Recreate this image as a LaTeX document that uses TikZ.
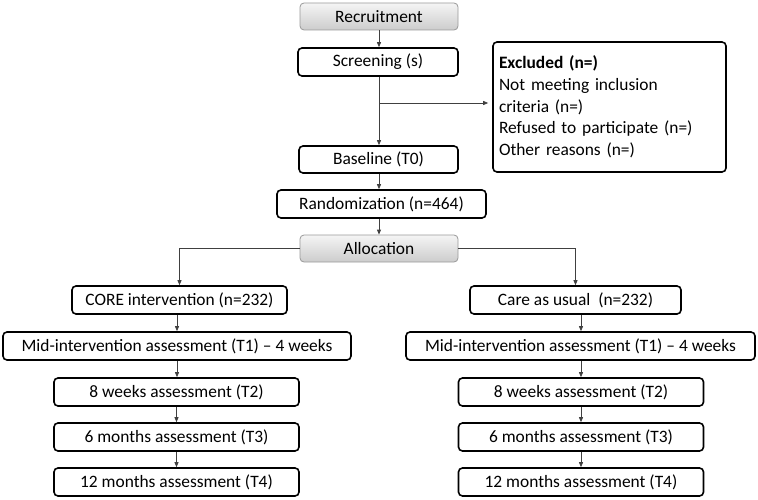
\documentclass[tikz,border=0pt]{standalone}
\usepackage{fontspec}
\setmainfont{Carlito}
\usetikzlibrary{arrows.meta}
\begin{document}
\begin{tikzpicture}[x=1pt,y=-1pt,
  box/.style={draw=black,line width=1.6pt,rounded corners=4pt,fill=white,inner sep=2pt,font=\fontsize{17.4}{20}\selectfont,minimum height=28pt},
  graybox/.style={draw=gray!80,line width=0.8pt,rounded corners=4pt,top color=gray!8,bottom color=gray!40,inner sep=2pt,font=\fontsize{17.4}{20}\selectfont,minimum height=27pt},
  conn/.style={draw=black!75,line width=0.8pt},
  arr/.style={conn,-{Triangle[length=5pt,width=4pt]}}]
\useasboundingbox (0,0) rectangle (758,500);
\node[graybox,minimum width=158pt] (rec) at (379,16.5) {Recruitment};
\node[box,minimum width=160pt] (scr) at (378,62) {Screening (s)};
\node[box,minimum width=233pt,minimum height=130pt,text width=221pt,align=left,inner sep=6pt,font=\fontsize{17.4}{21.7}\selectfont] (exc) at (609.5,107) {\textbf{Excluded (n=)}\\Not meeting inclusion\\criteria (n=)\\Refused to participate (n=)\\Other reasons (n=)};
\node[box,minimum width=159pt,minimum height=27pt] (base) at (378.5,159.5) {Baseline (T0)};
\node[box,minimum width=209pt] (rand) at (381.5,204) {Randomization (n=464)};
\node[graybox,minimum width=158pt] (alloc) at (379,248.5) {Allocation};
\node[box,minimum width=215pt] (core) at (179.5,300) {CORE intervention (n=232)};
\node[box,minimum width=211pt] (care) at (575.5,300) {Care as usual\ \ (n=232)};
\node[box,minimum width=348pt] (midL) at (177,346) {Mid-intervention assessment (T1) – 4 weeks};
\node[box,minimum width=245pt] (w8L) at (176.5,392) {8 weeks assessment (T2)};
\node[box,minimum width=245pt] (m6L) at (176.5,437) {6 months assessment (T3)};
\node[box,minimum width=245pt] (m12L) at (176.5,482) {12 months assessment (T4)};
\node[box,minimum width=349pt] (midR) at (580.5,346) {Mid-intervention assessment (T1) – 4 weeks};
\node[box,minimum width=245pt] (w8R) at (581,392) {8 weeks assessment (T2)};
\node[box,minimum width=245pt] (m6R) at (581,437) {6 months assessment (T3)};
\node[box,minimum width=245pt] (m12R) at (581,482) {12 months assessment (T4)};
\coordinate (br) at (379,103);
\draw[arr] (rec.south) -- (rec.south |- scr.north);
\draw[arr] (scr.south -| br) -- (base.north -| br);
\draw[arr,shorten >=4pt] (br) -- (br -| exc.west);
\draw[arr] (base.south -| br) -- (rand.north -| br);
\draw[arr] (rand.south -| br) -- (alloc.north -| br);
\draw[arr] (alloc.west) -| (core.north);
\draw[arr] (alloc.east) -| (care.north);
\draw[arr] (core.south -| midL) -- (midL.north);
\draw[arr] (midL.south) -- (midL.south |- w8L.north);
\draw[arr] (w8L.south) -- (m6L.north);
\draw[arr] (m6L.south) -- (m12L.north);
\draw[arr] (care.south -| w8R) -- (midR.north -| w8R);
\draw[arr] (midR.south -| w8R) -- (w8R.north);
\draw[arr] (w8R.south) -- (m6R.north);
\draw[arr] (m6R.south) -- (m12R.north);
\end{tikzpicture}
\end{document}
